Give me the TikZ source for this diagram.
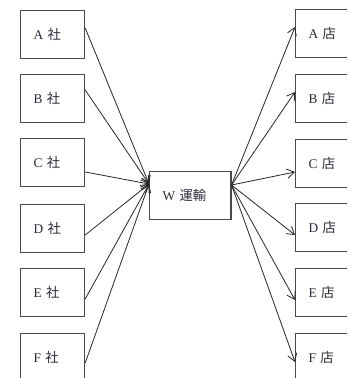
\documentclass[tikz,border=0pt]{standalone}
\usepackage{fontspec}
\setmainfont{Liberation Serif}
\newfontfamily\cjk{Noto Sans CJK JP}
\usetikzlibrary{arrows.meta,calc}
\definecolor{boxline}{HTML}{4A4A4A}
\definecolor{txt}{HTML}{2A2A3A}
\tikzset{
  srcbox/.style={draw=boxline, line width=0.9pt, rectangle, anchor=north west,
    minimum width=48pt, minimum height=36pt, inner xsep=9.75pt,
    text width=28.5pt, align=left, font=\fontsize{10pt}{11pt}\selectfont, text=txt},
  hubbox/.style={draw=boxline, line width=0.9pt, rectangle, anchor=north west,
    minimum width=61pt, minimum height=36pt, inner xsep=9.75pt,
    text width=41.5pt, align=left, font=\fontsize{10pt}{11pt}\selectfont, text=txt},
  conn/.style={draw=black!85, line width=0.6pt, -{Straight Barb[length=5.5pt,width=7pt]}}
}
\begin{document}
\begin{tikzpicture}[x=0.75pt,y=-0.75pt]
\useasboundingbox (0,0) rectangle (347,378);
\clip (0,0) rectangle (347,378);
% left companies
\node[srcbox] (A) at (20,10) {A {\cjk 社}};
\node[srcbox] (B) at (20,74) {B {\cjk 社}};
\node[srcbox] (C) at (20,138) {C {\cjk 社}};
\node[srcbox] (D) at (20,204) {D {\cjk 社}};
\node[srcbox] (E) at (20,268) {E {\cjk 社}};
\node[srcbox] (F) at (20,333) {F {\cjk 社}};
% hub
\node[hubbox] (W) at (149,171) {W {\cjk 運輸}};
% right shops
\node[srcbox] (As) at (295,9) {A {\cjk 店}};
\node[srcbox] (Bs) at (295,74) {B {\cjk 店}};
\node[srcbox] (Cs) at (295,139) {C {\cjk 店}};
\node[srcbox] (Ds) at (295,203) {D {\cjk 店}};
\node[srcbox] (Es) at (295,268) {E {\cjk 店}};
\node[srcbox] (Fs) at (295,333) {F {\cjk 店}};
% connection points
\coordinate (win) at ($(W.north west)+(0,13)$);
\coordinate (wout) at ($(W.north east)+(0,14)$);
\coordinate (a1) at ($(A.north east)+(0,18)$);
\coordinate (b1) at ($(B.north east)+(0,16)$);
\coordinate (c1) at ($(C.north east)+(0,34)$);
\coordinate (d1) at ($(D.north east)+(0,31)$);
\coordinate (e1) at ($(E.north east)+(0,31)$);
\coordinate (f1) at ($(F.north east)+(0,30)$);
\coordinate (a2) at ($(As.north west)+(0,18)$);
\coordinate (b2) at ($(Bs.north west)+(0,18)$);
\coordinate (c2) at ($(Cs.north west)+(0,33)$);
\coordinate (d2) at ($(Ds.north west)+(0,32)$);
\coordinate (e2) at ($(Es.north west)+(0,32)$);
\coordinate (f2) at ($(Fs.north west)+(0,29)$);
\foreach \p in {a1,b1,c1,d1,e1,f1} \draw[conn] (\p) -- (win);
\foreach \p in {a2,b2,c2,d2,e2,f2} \draw[conn] (wout) -- (\p);
\end{tikzpicture}
\end{document}
